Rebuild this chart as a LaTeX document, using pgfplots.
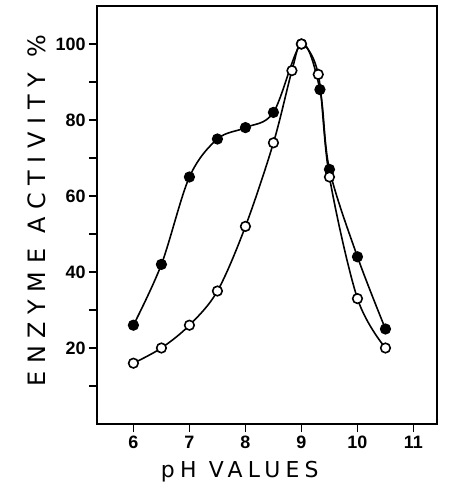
\documentclass[border=0pt]{standalone}
\usepackage{fontspec}
\setmainfont{Liberation Sans}
\newfontfamily\lblfont[LetterSpace=32]{DejaVu Sans}
\newfontfamily\xlblfont[LetterSpace=24]{DejaVu Sans}
\usepackage{pgfplots}
\pgfplotsset{compat=1.18}

\begin{document}
\begin{tikzpicture}
\begin{axis}[
    scale only axis,
    width=170bp, height=209bp,
    xmin=5.35, xmax=11.42,
    ymin=0, ymax=110,
    xtick={6,7,...,11},
    ytick={20,40,...,100},
    minor ytick={10,30,...,90},
    tick align=outside,
    major tick length=4bp,
    minor tick length=4bp,
    tick style={line width=0.8pt, black},
    axis line style={line width=1pt},
    xtick pos=bottom, ytick pos=left,
    /pgf/number format/assume math mode=true,
    tick label style={font=\fontsize{9}{10}\selectfont\bfseries},
    yticklabel style={inner sep=1.5bp},
    xticklabel style={inner sep=2bp},
    xlabel={\xlblfont\fontsize{11}{13}\selectfont pH VALUES},
    ylabel={\lblfont\fontsize{12}{14}\selectfont ENZYME ACTIVITY \%},
    xlabel style={at={(axis description cs:0.42,-0.113)}, anchor=center},
    ylabel style={at={(axis description cs:-0.176,0.51)}, anchor=center},
    every axis plot/.append style={line width=0.8pt, black, smooth, tension=0.55},
]
% filled circles
\addplot[mark=*, mark size=2.4bp, mark options={fill=black}] coordinates {
    (6,26) (6.5,42) (7,65) (7.5,75) (8,78) (8.5,82) (9,100)
    (9.33,88) (9.5,67) (10,44) (10.5,25)
};
% open circles
\addplot[mark=*, mark size=2.4bp, mark options={fill=white, line width=0.8pt}] coordinates {
    (6,16) (6.5,20) (7,26) (7.5,35) (8,52) (8.5,74) (8.83,93) (9,100)
    (9.3,92) (9.5,65) (10,33) (10.5,20)
};
\end{axis}
\path (current axis.north east) ++(7bp,3bp);
\path (current axis.south west) ++(-48.5bp,-35bp);
\end{tikzpicture}
\end{document}
